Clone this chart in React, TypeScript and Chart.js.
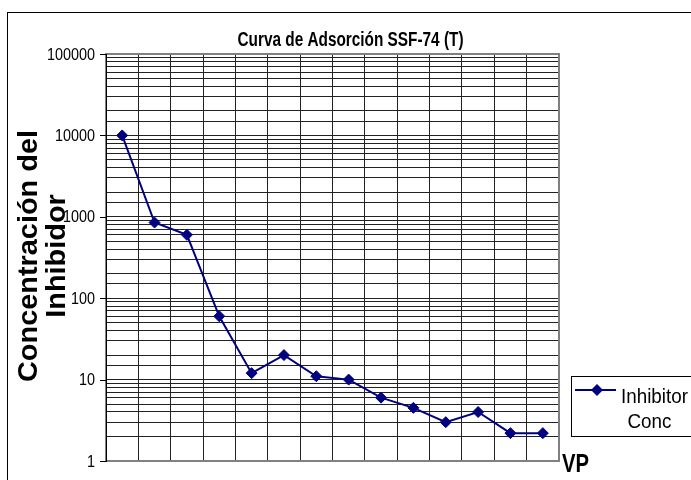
import React, { useEffect, useRef } from "react";
import { Chart, registerables } from "chart.js";

Chart.register(...registerables);

const categories = ["1", "2", "3", "4", "5", "6", "7", "8", "9", "10", "11", "12", "13", "14"];
const inhibitorConc = [10000, 850, 600, 60, 12, 20, 11, 10, 6, 4.5, 3, 4, 2.2, 2.2];
const yTickValues = [1, 10, 100, 1000, 10000, 100000];
const yTickLabels = ["1", "10", "100", "1000", "10000", "100000"];
const chartTitle = "Curva de Adsorción SSF-74 (T)";
const yTitleLines = ["Concentración del", "Inhibidor"];
const xTitle = "VP";
const legendLines = ["Inhibitor", "Conc"];

const FONT = 'Arial, "Liberation Sans", sans-serif';
const NAVY = "#000080";

function fitText(
  ctx: CanvasRenderingContext2D,
  text: string,
  font: string,
  x: number,
  y: number,
  targetWidth: number,
  align: CanvasTextAlign,
  baseline: CanvasTextBaseline = "alphabetic"
) {
  ctx.save();
  ctx.font = font;
  const w = ctx.measureText(text).width;
  const sx = targetWidth / w;
  ctx.translate(x, y);
  ctx.scale(sx, 1);
  ctx.textAlign = align;
  ctx.textBaseline = baseline;
  ctx.fillStyle = "#000";
  ctx.fillText(text, 0, 0);
  ctx.restore();
}

const framePlugin = {
  id: "framePlugin",
  beforeDatasetsDraw(chart: any) {
    const { ctx, chartArea } = chart;
    const { left, right, top, bottom } = chartArea;
    ctx.save();
    ctx.strokeStyle = "#808080";
    ctx.lineWidth = 2;
    ctx.strokeRect(left, top, right - left, bottom - top);
    ctx.strokeStyle = "#000";
    ctx.lineWidth = 1;
    ctx.beginPath();
    ctx.moveTo(Math.round(left) + 0.5, top);
    ctx.lineTo(Math.round(left) + 0.5, bottom + 1);
    const yScale = chart.scales.y;
    yTickValues.forEach((v) => {
      const py = Math.round(yScale.getPixelForValue(v)) + 0.5;
      ctx.moveTo(left - 6, py);
      ctx.lineTo(left, py);
    });
    ctx.stroke();
    ctx.restore();
  },
  afterDraw(chart: any) {
    const { ctx } = chart;
    const yScale = chart.scales.y;
    ctx.save();
    // outer border
    ctx.strokeStyle = "#000";
    ctx.lineWidth = 1;
    ctx.strokeRect(7.5, 12.5, 720, 520);

    // title
    fitText(ctx, chartTitle, `bold 20px ${FONT}`, 350.5, 46, 226, "center");

    // y tick labels
    ctx.font = `17px ${FONT}`;
    const tickSx = 40 / ctx.measureText("10000").width;
    yTickValues.forEach((v, i) => {
      const py = yScale.getPixelForValue(v);
      ctx.save();
      ctx.font = `17px ${FONT}`;
      ctx.translate(95, py + 1);
      ctx.scale(tickSx, 1);
      ctx.textAlign = "right";
      ctx.textBaseline = "middle";
      ctx.fillStyle = "#000";
      ctx.fillText(yTickLabels[i], 0, 0);
      ctx.restore();
    });

    // y title (rotated)
    const yFont = `bold 27px ${FONT}`;
    ctx.font = yFont;
    const ySx = 252 / ctx.measureText(yTitleLines[0]).width;
    const baselines = [37, 65];
    yTitleLines.forEach((line, i) => {
      ctx.save();
      ctx.font = yFont;
      ctx.translate(baselines[i], 256);
      ctx.rotate(-Math.PI / 2);
      ctx.scale(ySx, 1);
      ctx.textAlign = "center";
      ctx.textBaseline = "alphabetic";
      ctx.fillStyle = "#000";
      ctx.fillText(line, 0, 0);
      ctx.restore();
    });

    // x title
    fitText(ctx, xTitle, `bold 25px ${FONT}`, 562, 472, 27, "left");

    // legend
    ctx.strokeStyle = "#000";
    ctx.lineWidth = 1;
    ctx.strokeRect(571.5, 376.5, 200, 60);
    ctx.strokeStyle = NAVY;
    ctx.lineWidth = 2;
    ctx.beginPath();
    ctx.moveTo(575, 390);
    ctx.lineTo(616, 390);
    ctx.stroke();
    ctx.fillStyle = NAVY;
    ctx.beginPath();
    ctx.moveTo(597 - 6, 390);
    ctx.lineTo(597, 390 - 6);
    ctx.lineTo(597 + 6, 390);
    ctx.lineTo(597, 390 + 6);
    ctx.closePath();
    ctx.fill();
    ctx.font = `21px ${FONT}`;
    const legSx = 67 / ctx.measureText(legendLines[0]).width;
    ctx.save();
    ctx.translate(621, 403);
    ctx.scale(legSx, 1);
    ctx.fillStyle = "#000";
    ctx.textAlign = "left";
    ctx.fillText(legendLines[0], 0, 0);
    ctx.restore();
    ctx.save();
    ctx.translate(649.5, 428);
    ctx.scale(legSx, 1);
    ctx.fillStyle = "#000";
    ctx.textAlign = "center";
    ctx.fillText(legendLines[1], 0, 0);
    ctx.restore();
    ctx.restore();
  },
};

export default function App() {
  const canvasRef = useRef<HTMLCanvasElement | null>(null);

  useEffect(() => {
    document.body.style.margin = "0";
    const canvas = canvasRef.current;
    if (!canvas) return;
    const chart = new Chart(canvas, {
      type: "line",
      data: {
        labels: categories,
        datasets: [
          {
            label: "Inhibitor Conc",
            data: inhibitorConc,
            borderColor: NAVY,
            backgroundColor: NAVY,
            borderWidth: 2,
            pointStyle: "rectRot",
            pointRadius: 5.5,
            pointBorderWidth: 1,
            pointBackgroundColor: NAVY,
            pointBorderColor: NAVY,
            tension: 0,
          },
        ],
      },
      options: {
        responsive: false,
        animation: false,
        devicePixelRatio: 1,
        layout: { padding: { left: 106, right: 132, top: 54, bottom: 19 } },
        plugins: {
          legend: { display: false },
          title: { display: false },
          tooltip: { enabled: false },
        },
        scales: {
          x: {
            type: "category",
            offset: true,
            grid: { offset: true, color: "#222", lineWidth: 1, drawTicks: false },
            border: { display: false },
            ticks: { display: false },
            afterFit: (s: any) => {
              s.height = 0;
            },
          },
          y: {
            type: "logarithmic",
            min: 1,
            max: 100000,
            grid: { color: "#222", lineWidth: 1, drawTicks: false },
            border: { display: false },
            ticks: { display: false, autoSkip: false },
            afterFit: (s: any) => {
              s.width = 0;
            },
          },
        },
      },
      plugins: [framePlugin],
    });
    return () => chart.destroy();
  }, []);

  return (
    <div style={{ width: 691, height: 480, background: "#fff" }}>
      <canvas ref={canvasRef} width={691} height={480} style={{ display: "block" }} />
    </div>
  );
}
